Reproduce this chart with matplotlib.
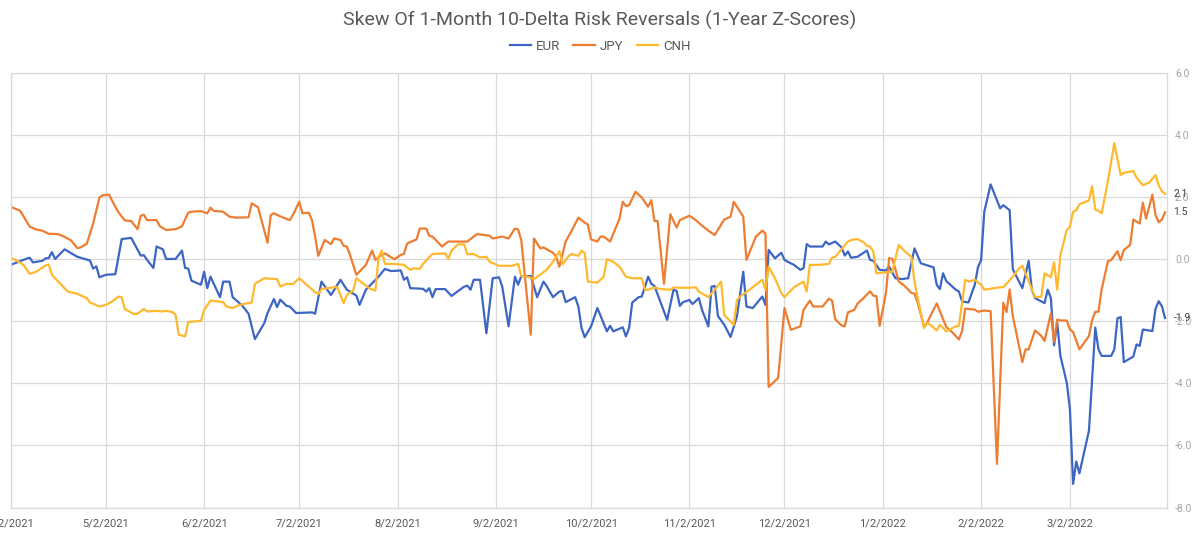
import matplotlib
matplotlib.use("Agg")
import matplotlib.pyplot as plt
import pandas as pd

plt.rcParams['font.family'] = ['Roboto', 'DejaVu Sans']

# EUR 1m 10d risk reversal skew, 1y z-score
eur_dates = ['2021-04-02', '2021-04-07', '2021-04-08', '2021-04-09', '2021-04-12', '2021-04-13', '2021-04-14',
             '2021-04-15', '2021-04-16', '2021-04-19', '2021-04-23', '2021-04-27', '2021-04-28', '2021-04-29',
             '2021-04-30', '2021-05-02', '2021-05-05', '2021-05-07', '2021-05-10', '2021-05-13', '2021-05-14',
             '2021-05-15', '2021-05-17', '2021-05-18', '2021-05-20', '2021-05-21', '2021-05-24', '2021-05-26',
             '2021-05-27', '2021-05-28', '2021-05-29', '2021-06-01', '2021-06-02', '2021-06-03', '2021-06-04',
             '2021-06-07', '2021-06-08', '2021-06-10', '2021-06-11', '2021-06-14', '2021-06-16', '2021-06-18',
             '2021-06-21', '2021-06-22', '2021-06-24', '2021-06-25', '2021-06-26', '2021-06-28', '2021-06-29',
             '2021-07-01', '2021-07-06', '2021-07-07', '2021-07-09', '2021-07-12', '2021-07-15', '2021-07-17',
             '2021-07-20', '2021-07-21', '2021-07-23', '2021-07-27', '2021-07-29', '2021-07-31', '2021-08-03',
             '2021-08-04', '2021-08-05', '2021-08-06', '2021-08-10', '2021-08-11', '2021-08-12', '2021-08-13',
             '2021-08-14', '2021-08-17', '2021-08-19', '2021-08-23', '2021-08-24', '2021-08-25', '2021-08-26',
             '2021-08-28', '2021-08-30', '2021-09-01', '2021-09-03', '2021-09-04', '2021-09-06', '2021-09-08',
             '2021-09-09', '2021-09-10', '2021-09-13', '2021-09-15', '2021-09-17', '2021-09-18', '2021-09-20',
             '2021-09-22', '2021-09-23', '2021-09-24', '2021-09-27', '2021-09-28', '2021-09-29', '2021-09-30',
             '2021-10-02', '2021-10-04', '2021-10-07', '2021-10-08', '2021-10-09', '2021-10-12', '2021-10-13',
             '2021-10-14', '2021-10-15', '2021-10-17', '2021-10-18', '2021-10-20', '2021-10-21', '2021-10-22',
             '2021-10-26', '2021-10-28', '2021-10-29', '2021-10-30', '2021-10-31', '2021-11-02', '2021-11-03',
             '2021-11-05', '2021-11-06', '2021-11-08', '2021-11-09', '2021-11-10', '2021-11-11', '2021-11-13',
             '2021-11-15', '2021-11-17', '2021-11-19', '2021-11-20', '2021-11-22', '2021-11-25', '2021-11-26',
             '2021-11-27', '2021-11-29', '2021-12-01', '2021-12-02', '2021-12-03', '2021-12-05', '2021-12-07',
             '2021-12-08', '2021-12-09', '2021-12-10', '2021-12-14', '2021-12-15', '2021-12-16', '2021-12-18',
             '2021-12-20', '2021-12-21', '2021-12-22', '2021-12-23', '2021-12-25', '2021-12-28', '2021-12-29',
             '2021-12-30', '2022-01-01', '2022-01-03', '2022-01-04', '2022-01-06', '2022-01-08', '2022-01-10',
             '2022-01-12', '2022-01-14', '2022-01-18', '2022-01-19', '2022-01-20', '2022-01-21', '2022-01-22',
             '2022-01-25', '2022-01-26', '2022-01-27', '2022-01-29', '2022-01-31', '2022-02-01', '2022-02-02',
             '2022-02-03', '2022-02-05', '2022-02-08', '2022-02-09', '2022-02-11', '2022-02-12', '2022-02-15',
             '2022-02-17', '2022-02-18', '2022-02-19', '2022-02-22', '2022-02-23', '2022-02-24', '2022-02-25',
             '2022-02-26', '2022-02-27', '2022-03-01', '2022-03-02', '2022-03-03', '2022-03-04', '2022-03-05',
             '2022-03-08', '2022-03-10', '2022-03-11', '2022-03-12', '2022-03-15', '2022-03-16', '2022-03-17',
             '2022-03-18', '2022-03-19', '2022-03-22', '2022-03-23', '2022-03-24', '2022-03-25', '2022-03-28',
             '2022-03-29', '2022-03-30', '2022-03-31', '2022-04-01']
eur = [-0.19, 0.01, 0.04, -0.11, -0.06, 0.02, 0.03,
       0.22, 0.00, 0.31, 0.07, -0.05, -0.31, -0.24,
       -0.59, -0.51, -0.49, 0.64, 0.68, 0.11, 0.12,
       -0.03, -0.29, 0.40, 0.31, 0.00, 0.00, 0.27,
       -0.29, -0.31, -0.70, -0.83, -0.41, -0.94, -0.57,
       -1.23, -0.73, -0.73, -1.23, -1.50, -1.76, -2.58,
       -2.06, -1.74, -1.29, -1.55, -1.31, -1.51, -1.53,
       -1.74, -1.72, -1.76, -0.73, -1.16, -0.67, -0.99,
       -1.18, -1.48, -0.99, -0.57, -0.32, -0.39, -0.37,
       -0.67, -0.59, -0.94, -0.96, -1.05, -0.94, -1.23,
       -0.97, -0.97, -1.19, -0.89, -0.86, -0.99, -0.67,
       -0.67, -2.39, -0.62, -0.59, -0.89, -2.17, -0.57,
       -0.83, -0.55, -0.55, -1.23, -0.73, -0.87, -1.23,
       -1.05, -1.03, -1.39, -1.23, -1.53, -2.22, -2.52,
       -2.17, -1.58, -2.33, -2.15, -2.33, -2.20, -2.49,
       -2.22, -1.40, -1.23, -1.21, -0.57, -0.80, -0.87,
       -1.96, -0.99, -1.03, -1.51, -1.39, -1.32, -1.45,
       -1.26, -1.64, -2.17, -0.89, -0.87, -1.83, -2.12,
       -2.51, -1.85, -0.41, -1.53, -1.58, -1.21, -1.48,
       0.29, 0.02, 0.20, -0.03, -0.09, -0.19, -0.35,
       -0.30, 0.48, 0.40, 0.40, 0.56, 0.47, 0.56,
       0.37, 0.11, 0.24, 0.04, 0.07, 0.27, -0.03,
       -0.06, -0.35, -0.37, -0.25, -0.62, -0.65, -0.62,
       0.34, -0.14, -0.27, -0.83, -0.97, -0.46, -0.71,
       -0.99, -1.05, -1.37, -1.40, -0.83, -0.27, -0.03,
       1.52, 2.40, 1.63, 1.73, 1.57, -0.33, -0.94,
       -0.06, -0.99, -1.26, -1.42, -0.99, -1.26, -2.78,
       -2.05, -3.12, -3.98, -4.83, -7.24, -6.52, -6.90,
       -5.53, -2.21, -2.91, -3.12, -3.12, -2.91, -1.91,
       -1.87, -3.32, -3.14, -2.75, -2.80, -2.27, -2.32,
       -1.60, -1.36, -1.52, -1.90]

jpy_dates = ['2021-04-02', '2021-04-05', '2021-04-08', '2021-04-10', '2021-04-12', '2021-04-14', '2021-04-17',
             '2021-04-19', '2021-04-21', '2021-04-23', '2021-04-24', '2021-04-26', '2021-04-28', '2021-04-30',
             '2021-05-01', '2021-05-03', '2021-05-05', '2021-05-06', '2021-05-08', '2021-05-10', '2021-05-12',
             '2021-05-13', '2021-05-14', '2021-05-15', '2021-05-18', '2021-05-19', '2021-05-21', '2021-05-24',
             '2021-05-26', '2021-05-28', '2021-05-29', '2021-06-01', '2021-06-03', '2021-06-04', '2021-06-05',
             '2021-06-08', '2021-06-10', '2021-06-12', '2021-06-16', '2021-06-17', '2021-06-19', '2021-06-22',
             '2021-06-23', '2021-06-24', '2021-06-26', '2021-06-29', '2021-06-30', '2021-07-02', '2021-07-03',
             '2021-07-05', '2021-07-06', '2021-07-07', '2021-07-08', '2021-07-10', '2021-07-12', '2021-07-13',
             '2021-07-15', '2021-07-16', '2021-07-17', '2021-07-18', '2021-07-20', '2021-07-23', '2021-07-25',
             '2021-07-26', '2021-07-28', '2021-07-29', '2021-08-01', '2021-08-03', '2021-08-04', '2021-08-05',
             '2021-08-08', '2021-08-09', '2021-08-11', '2021-08-12', '2021-08-13', '2021-08-16', '2021-08-18',
             '2021-08-24', '2021-08-25', '2021-08-27', '2021-08-31', '2021-09-01', '2021-09-04', '2021-09-06',
             '2021-09-08', '2021-09-09', '2021-09-10', '2021-09-13', '2021-09-14', '2021-09-16', '2021-09-17',
             '2021-09-20', '2021-09-21', '2021-09-22', '2021-09-24', '2021-09-26', '2021-09-28', '2021-09-30',
             '2021-10-01', '2021-10-02', '2021-10-04', '2021-10-05', '2021-10-06', '2021-10-08', '2021-10-11',
             '2021-10-12', '2021-10-13', '2021-10-14', '2021-10-16', '2021-10-18', '2021-10-20', '2021-10-21',
             '2021-10-22', '2021-10-23', '2021-10-25', '2021-10-27', '2021-10-29', '2021-10-30', '2021-11-02',
             '2021-11-04', '2021-11-06', '2021-11-08', '2021-11-10', '2021-11-13', '2021-11-15', '2021-11-16',
             '2021-11-17', '2021-11-19', '2021-11-20', '2021-11-23', '2021-11-25', '2021-11-26', '2021-11-27',
             '2021-11-30', '2021-12-02', '2021-12-04', '2021-12-07', '2021-12-08', '2021-12-10', '2021-12-11',
             '2021-12-14', '2021-12-16', '2021-12-17', '2021-12-18', '2021-12-20', '2021-12-21', '2021-12-22',
             '2021-12-24', '2021-12-25', '2021-12-27', '2021-12-29', '2021-12-30', '2021-12-31', '2022-01-01',
             '2022-01-03', '2022-01-04', '2022-01-05', '2022-01-06', '2022-01-07', '2022-01-09', '2022-01-11',
             '2022-01-12', '2022-01-13', '2022-01-15', '2022-01-16', '2022-01-17', '2022-01-19', '2022-01-20',
             '2022-01-22', '2022-01-24', '2022-01-26', '2022-01-27', '2022-01-28', '2022-01-31', '2022-02-01',
             '2022-02-03', '2022-02-05', '2022-02-07', '2022-02-09', '2022-02-10', '2022-02-11', '2022-02-12',
             '2022-02-15', '2022-02-16', '2022-02-17', '2022-02-19', '2022-02-21', '2022-02-22', '2022-02-24',
             '2022-02-25', '2022-02-26', '2022-02-27', '2022-03-01', '2022-03-02', '2022-03-03', '2022-03-05',
             '2022-03-08', '2022-03-09', '2022-03-10', '2022-03-11', '2022-03-12', '2022-03-14', '2022-03-15',
             '2022-03-17', '2022-03-18', '2022-03-19', '2022-03-21', '2022-03-22', '2022-03-24', '2022-03-25',
             '2022-03-26', '2022-03-28', '2022-03-29', '2022-03-30', '2022-03-31', '2022-04-01']
jpy = [1.68, 1.55, 1.04, 0.95, 0.91, 0.81, 0.80,
       0.71, 0.60, 0.35, 0.37, 0.49, 1.14, 1.98,
       2.05, 2.07, 1.68, 1.50, 1.24, 1.22, 0.96,
       1.39, 1.42, 1.25, 1.25, 1.06, 0.93, 0.96,
       1.05, 1.49, 1.52, 1.54, 1.47, 1.65, 1.55,
       1.52, 1.36, 1.33, 1.34, 1.79, 1.66, 0.52,
       1.41, 1.47, 1.37, 1.25, 1.42, 1.84, 1.47,
       1.49, 1.25, 0.72, 0.10, 0.61, 0.48, 0.66,
       0.61, 0.42, 0.40, 0.13, -0.51, -0.19, 0.27,
       -0.03, 0.13, 0.18, -0.01, 0.13, 0.16, 0.50,
       0.63, 0.98, 0.98, 0.74, 0.72, 0.40, 0.56,
       0.56, 0.64, 0.80, 0.75, 0.66, 0.72, 0.66,
       0.98, 0.95, 0.61, -2.44, 0.66, 0.34, 0.37,
       0.20, 0.07, -0.25, 0.56, 0.93, 1.33, 1.17,
       1.11, 0.63, 0.56, 0.72, 0.72, 0.56, 1.30,
       1.84, 1.70, 1.73, 2.16, 1.98, 1.68, 1.89,
       1.22, 1.22, -0.80, 1.44, 1.01, 1.25, 1.39,
       1.25, 1.07, 0.91, 0.77, 1.27, 1.36, 1.84,
       1.68, 1.36, -0.03, 0.72, 0.91, 0.82, -4.12,
       -3.83, -1.58, -2.28, -2.17, -1.64, -1.34, -1.53,
       -1.53, -1.28, -1.34, -1.94, -2.14, -2.17, -1.72,
       -1.64, -1.44, -1.25, -1.04, -1.18, -1.20, -2.15,
       -1.09, 0.03, 0.00, -0.34, -0.72, -0.88, -1.09,
       -1.12, -1.41, -2.18, -2.05, -1.84, -1.43, -1.68,
       -2.19, -2.37, -2.59, -2.32, -1.60, -1.63, -1.70,
       -1.66, -1.68, -6.60, -1.41, -1.71, -0.98, -1.84,
       -3.32, -2.91, -2.91, -2.30, -2.48, -2.64, -1.75,
       -2.67, -1.95, -1.98, -1.98, -2.27, -2.35, -2.91,
       -2.48, -1.97, -1.70, -1.70, -0.98, -0.07, -0.04,
       0.25, -0.04, 0.29, 0.45, 1.27, 1.14, 1.81,
       1.30, 2.07, 1.41, 1.18, 1.27, 1.50]

cnh_dates = ['2021-04-02', '2021-04-04', '2021-04-06', '2021-04-08', '2021-04-10', '2021-04-13', '2021-04-14',
             '2021-04-15', '2021-04-17', '2021-04-20', '2021-04-23', '2021-04-26', '2021-04-27', '2021-04-30',
             '2021-05-02', '2021-05-04', '2021-05-06', '2021-05-07', '2021-05-08', '2021-05-11', '2021-05-12',
             '2021-05-14', '2021-05-15', '2021-05-18', '2021-05-20', '2021-05-21', '2021-05-23', '2021-05-24',
             '2021-05-25', '2021-05-27', '2021-05-28', '2021-06-01', '2021-06-02', '2021-06-04', '2021-06-08',
             '2021-06-09', '2021-06-11', '2021-06-13', '2021-06-16', '2021-06-17', '2021-06-18', '2021-06-21',
             '2021-06-25', '2021-06-26', '2021-06-28', '2021-06-30', '2021-07-02', '2021-07-04', '2021-07-07',
             '2021-07-08', '2021-07-09', '2021-07-13', '2021-07-14', '2021-07-16', '2021-07-17', '2021-07-19',
             '2021-07-20', '2021-07-22', '2021-07-24', '2021-07-26', '2021-07-27', '2021-07-28', '2021-07-29',
             '2021-08-01', '2021-08-04', '2021-08-06', '2021-08-07', '2021-08-09', '2021-08-10', '2021-08-13',
             '2021-08-17', '2021-08-18', '2021-08-19', '2021-08-21', '2021-08-23', '2021-08-24', '2021-08-26',
             '2021-08-28', '2021-08-30', '2021-08-31', '2021-09-03', '2021-09-07', '2021-09-09', '2021-09-10',
             '2021-09-12', '2021-09-14', '2021-09-18', '2021-09-20', '2021-09-22', '2021-09-23', '2021-09-25',
             '2021-09-26', '2021-09-28', '2021-09-29', '2021-09-30', '2021-10-01', '2021-10-04', '2021-10-06',
             '2021-10-07', '2021-10-09', '2021-10-11', '2021-10-13', '2021-10-15', '2021-10-18', '2021-10-19',
             '2021-10-20', '2021-10-22', '2021-10-24', '2021-10-27', '2021-10-28', '2021-11-02', '2021-11-04',
             '2021-11-05', '2021-11-08', '2021-11-10', '2021-11-12', '2021-11-13', '2021-11-16', '2021-11-17',
             '2021-11-18', '2021-11-21', '2021-11-25', '2021-11-26', '2021-11-27', '2021-11-29', '2021-12-01',
             '2021-12-02', '2021-12-05', '2021-12-08', '2021-12-09', '2021-12-10', '2021-12-13', '2021-12-16',
             '2021-12-17', '2021-12-18', '2021-12-22', '2021-12-23', '2021-12-25', '2021-12-27', '2021-12-28',
             '2021-12-29', '2021-12-30', '2021-12-31', '2022-01-03', '2022-01-05', '2022-01-07', '2022-01-09',
             '2022-01-11', '2022-01-12', '2022-01-13', '2022-01-15', '2022-01-16', '2022-01-17', '2022-01-19',
             '2022-01-20', '2022-01-21', '2022-01-22', '2022-01-25', '2022-01-26', '2022-01-28', '2022-01-29',
             '2022-01-31', '2022-02-02', '2022-02-03', '2022-02-08', '2022-02-09', '2022-02-12', '2022-02-14',
             '2022-02-15', '2022-02-16', '2022-02-19', '2022-02-21', '2022-02-22', '2022-02-24', '2022-02-25',
             '2022-02-26', '2022-02-27', '2022-03-01', '2022-03-02', '2022-03-03', '2022-03-04', '2022-03-05',
             '2022-03-07', '2022-03-08', '2022-03-09', '2022-03-10', '2022-03-11', '2022-03-12', '2022-03-14',
             '2022-03-16', '2022-03-18', '2022-03-19', '2022-03-22', '2022-03-23', '2022-03-25', '2022-03-27',
             '2022-03-29', '2022-03-30', '2022-03-31', '2022-04-01']
cnh = [0.04, -0.06, -0.19, -0.48, -0.41, -0.21, -0.18,
       -0.51, -0.73, -1.05, -1.12, -1.26, -1.40, -1.53,
       -1.48, -1.37, -1.21, -1.23, -1.61, -1.78, -1.76,
       -1.61, -1.69, -1.67, -1.69, -1.67, -1.71, -1.80,
       -2.44, -2.49, -2.03, -1.99, -1.64, -1.34, -1.39,
       -1.53, -1.58, -1.48, -1.42, -1.40, -0.80, -0.62,
       -0.65, -0.89, -0.80, -0.81, -0.62, -0.80, -1.07,
       -1.13, -0.97, -0.91, -0.91, -1.42, -1.16, -1.02,
       -0.62, -0.78, -0.94, -1.02, 0.05, 0.27, -0.16,
       -0.16, -0.19, -0.35, -0.30, -0.32, -0.16, 0.16,
       0.18, 0.00, 0.27, 0.47, 0.47, 0.15, 0.16,
       0.05, 0.07, -0.09, -0.22, -0.22, -0.16, -0.55,
       -0.57, -0.65, -0.35, -0.09, 0.25, -0.17, 0.10,
       0.16, 0.10, 0.27, 0.18, -0.73, -0.76, -0.57,
       -0.01, -0.09, -0.25, -0.57, -0.62, -0.62, -0.99,
       -0.99, -0.92, -0.97, -0.99, -0.92, -0.93, -0.91,
       -1.05, -1.23, -0.99, -0.73, -1.80, -2.12, -1.32,
       -1.21, -0.99, -0.67, -0.99, -0.25, -0.62, -1.10,
       -1.23, -0.91, -0.73, -1.05, -0.19, -0.19, -0.16,
       0.04, 0.07, 0.56, 0.61, 0.64, 0.53, 0.42,
       0.40, 0.24, -0.46, -0.43, -0.41, 0.45, 0.24,
       0.07, -0.73, -1.26, -2.22, -2.06, -2.12, -2.30,
       -2.12, -2.22, -2.33, -2.17, -2.15, -0.67, -0.73,
       -0.67, -0.83, -0.99, -0.91, -0.91, -0.57, -0.30,
       -0.22, -0.46, -1.23, -1.21, -0.46, -0.59, -0.11,
       -0.99, 0.13, 0.93, 1.04, 1.52, 1.57, 1.76,
       1.84, 1.89, 2.34, 1.59, 1.55, 1.47, 2.51,
       3.73, 2.70, 2.77, 2.83, 2.62, 2.37, 2.46,
       2.70, 2.37, 2.18, 2.10]

series_names = ['EUR', 'JPY', 'CNH']
series_colors = ['#3D66C4', '#ED7D31', '#FFB92E']
y_ticks = [-8, -6, -4, -2, 0, 2, 4, 6]
x_ticks = ['2021-04-02', '2021-05-02', '2021-06-02', '2021-07-02', '2021-08-02', '2021-09-02',
           '2021-10-02', '2021-11-02', '2021-12-02', '2022-01-02', '2022-02-02', '2022-03-02']

fig = plt.figure(figsize=(12, 5.33), dpi=100)
ax = fig.add_axes([0.0089, 0.0478, 0.9633, 0.8161])

all_dates = [eur_dates, jpy_dates, cnh_dates]
all_vals = [eur, jpy, cnh]
for name, col, dts, vals in zip(series_names, series_colors, all_dates, all_vals):
    d = pd.to_datetime(dts)
    ax.plot(d, vals, color=col, lw=1.6, label=name)
    # end-of-line value label
    ax.annotate(f"{vals[-1]:.1f}", xy=(d[-1], vals[-1]), xytext=(6, 0),
                textcoords='offset points', va='center', ha='left',
                fontsize=7.5, color='#404040', annotation_clip=False)

xt = pd.to_datetime(x_ticks)
ax.set_xticks(xt)
ax.set_xticklabels([f"{t.month}/{t.day}/{t.year}" for t in xt])
ax.set_xlim(pd.Timestamp('2021-04-02'), pd.Timestamp('2022-04-01 12:00'))
ax.set_ylim(-8, 6)
ax.set_yticks(y_ticks)
ax.set_yticklabels([f"{v:.1f}" for v in y_ticks])
ax.yaxis.tick_right()

ax.grid(True, color='#d9d9d9', lw=0.9)
ax.set_axisbelow(True)
for s in ax.spines.values():
    s.set_color('#d9d9d9')
    s.set_linewidth(0.9)
ax.tick_params(axis='x', length=0, pad=8, labelsize=8, labelcolor='#595959')
ax.tick_params(axis='y', length=0, pad=6, labelsize=7.5, labelcolor='#a6a6a6')

fig.text(0.5, 0.962, 'Skew Of 1-Month 10-Delta Risk Reversals (1-Year Z-Scores)',
         ha='center', va='center', fontsize=14, color='#595959')
fig.legend(loc='center', bbox_to_anchor=(0.5, 0.913), ncol=3, frameon=False,
           fontsize=9.5, handlelength=1.6, columnspacing=1.0, handletextpad=0.4,
           labelcolor='#595959')

fig.savefig('out.png', dpi=100)
